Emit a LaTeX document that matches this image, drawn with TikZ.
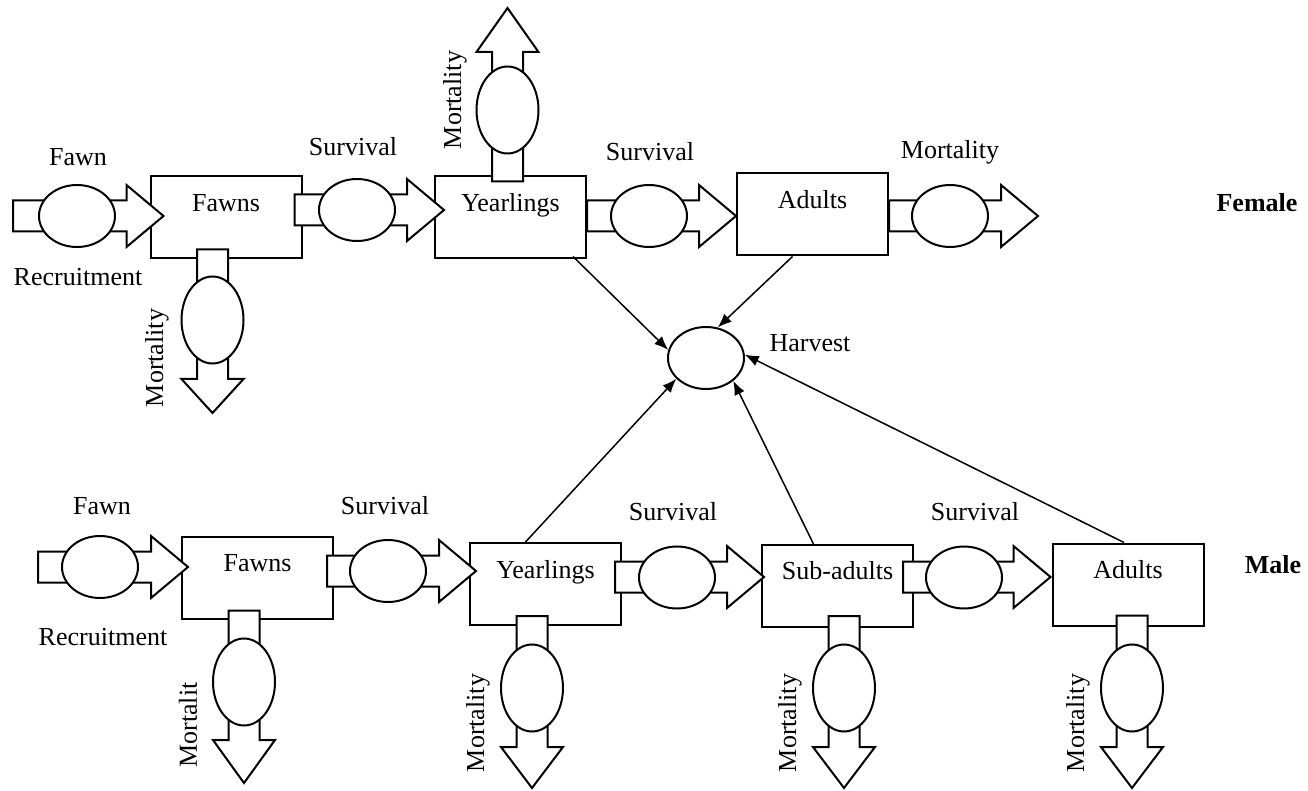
\documentclass[tikz,border=0pt]{standalone}
\usepackage{fontspec}
\setmainfont{Liberation Serif}
\usetikzlibrary{shapes.geometric, arrows.meta, calc}

% hollow flow pipe: start, tip, head length
\newcommand{\flowpipe}[3]{%
  \coordinate (fpS) at (#1);
  \coordinate (fpT) at (#2);
  \coordinate (fpB) at ($(fpT)!#3!(fpS)$);
  \filldraw[pipe] ($(fpS)!7.75pt!90:(fpT)$) -- ($(fpB)!7.75pt!-90:(fpS)$) -- ($(fpB)!15.5pt!-90:(fpS)$) -- (fpT)
    -- ($(fpB)!15.5pt!90:(fpS)$) -- ($(fpB)!7.75pt!90:(fpS)$) -- ($(fpS)!7.75pt!-90:(fpT)$) -- cycle;
}

\begin{document}
\begin{tikzpicture}[x=0.5pt,y=-0.5pt,>={Latex[length=7pt,width=5.5pt]},
  every node/.style={font=\fontsize{13}{15}\selectfont},
  stock/.style={draw, line width=1pt, minimum width=75.5pt, inner sep=0pt, text height=17.5pt, text depth=23.5pt},
  pipe/.style={draw, fill=white, line width=1pt, line join=miter},
  valve/.style={ellipse, draw, fill=white, line width=1pt, minimum width=38pt, minimum height=31pt, inner sep=0pt},
  vvalve/.style={valve, minimum width=31pt, minimum height=43.5pt},
  hv/.style={->, line width=0.75pt}]
\useasboundingbox (0,0) rectangle (1308,791);
% Female stocks
\node[stock] (fawnF) at (226,217.5) {Fawns};
\node[stock] (yearF) at (510.5,217.5) {Yearlings};
\node[stock] (adultF) at (812.5,214.5) {Adults};
% Male stocks
\node[stock] (fawnM) at (257.5,577.5) {Fawns};
\node[stock] (yearM) at (545.5,584) {Yearlings};
\node[stock] (subM) at (837.5,586) {Sub-adults};
\node[stock] (adultM) at (1128,584.5) {Adults};
% Female flows
\flowpipe{13,216}{$(fawnF.west)+(14,-1.5)$}{18.5pt}
\node[valve] (recF) at (77,216) {};
\flowpipe{$(fawnF.east)+(-8,-7.5)$}{$(yearF.west)+(10,-7.5)$}{18.5pt}
\node[valve] (s1F) at (357,210) {};
\flowpipe{$(yearF.east)+(0,-1.5)$}{$(adultF.west)+(0,1.5)$}{18.5pt}
\node[valve] (s2F) at (649,216) {};
\flowpipe{$(adultF.east)+(0,1.5)$}{1038,216}{18.5pt}
\node[valve] (mF) at (950,216) {};
\flowpipe{$(fawnF.south)+(-13.5,-10)$}{212.5,413}{17pt}
\node[vvalve] (dfF) at (212.5,320) {};
\flowpipe{$(yearF.north)+(-3,6)$}{507.5,8}{22pt}
\node[vvalve] (dyF) at (507.5,110) {};
% Male flows
\flowpipe{38,567}{$(fawnM.west)+(7,-10.5)$}{18.5pt}
\node[valve] (recM) at (100,567) {};
\flowpipe{$(fawnM.east)+(-7,-6.5)$}{$(yearM.west)+(7,-13)$}{18.5pt}
\node[valve] (s1M) at (388,571) {};
\flowpipe{$(yearM.east)+(-7,-7)$}{$(subM.west)+(3,-9)$}{18.5pt}
\node[valve] (s2M) at (677,577.5) {};
\flowpipe{$(subM.east)+(-11,-9)$}{$(adultM.west)+(-1,-7.5)$}{18.5pt}
\node[valve] (s3M) at (964,577.5) {};
\flowpipe{$(fawnM.south)+(-13.5,-9)$}{244,783}{21.5pt}
\node[vvalve] (dfM) at (244,682) {};
\flowpipe{$(yearM.south)+(-13.5,-10)$}{532,788}{20.5pt}
\node[vvalve] (dyM) at (532,688) {};
\flowpipe{$(subM.south)+(6.5,-12)$}{844,788}{20.5pt}
\node[vvalve] (dsM) at (844,688) {};
\flowpipe{$(adultM.south)+(4,-11)$}{1132,788}{20.5pt}
\node[vvalve] (daM) at (1132,688) {};
% Harvest
\node[valve] (harv) at (706,358) {};
\draw[hv] ($(yearF.south east)+(-14,-3)$) -- (harv.168);
\draw[hv] ($(adultF.south)+(-20,0)$) -- (harv.69);
\draw[hv] ($(yearM.north)+(-20,0)$) -- (harv.215);
\draw[hv] ($(subM.north)+(-24,0)$) -- (harv.320);
\draw[hv] ($(adultM.north)+(-4,0)$) -- (harv.5);
% Labels
\node (lfawnF) at (78,157) {Fawn};
\node (lrecF) at (78,277) {Recruitment};
\node (ls1F) at (353,147) {Survival};
\node (ls2F) at (650,152) {Survival};
\node (lmF) at (950,152) {Mortality};
\node[rotate=90] (ldyF) at (455,100) {Mortality};
\node[rotate=90] (ldfF) at (157,358) {Mortality};
\node (lharv) at (810,343) {Harvest};
\node (female) at (1257,203) {\textbf{Female}};
\node (lfawnM) at (102,506) {Fawn};
\node (lrecM) at (103,637) {Recruitment};
\node (ls1M) at (385,506) {Survival};
\node (ls2M) at (673,512) {Survival};
\node (ls3M) at (975,512) {Survival};
\node[rotate=90] (ldfM) at (188,725) {Mortalit};
\node[rotate=90] (ldyM) at (478,723) {Mortality};
\node[rotate=90] (ldsM) at (790,723) {Mortality};
\node[rotate=90] (ldaM) at (1078,723) {Mortality};
\node (male) at (1273,565) {\textbf{Male}};
\end{tikzpicture}
\end{document}
